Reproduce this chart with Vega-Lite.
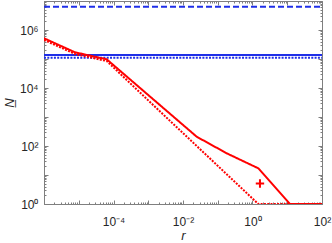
{
  "$schema": "https://vega.github.io/schema/vega-lite/v6.json",
  "width": 278,
  "height": 203,
  "autosize": "none",
  "padding": {"left": 44, "top": 1, "right": 10, "bottom": 39},
  "config": {
    "view": {"stroke": "#7f7f7f", "strokeWidth": 1},
    "font": "Liberation Sans",
    "axis": {
      "domainColor": "#7f7f7f",
      "tickColor": "#7f7f7f",
      "labelColor": "#262626",
      "titleColor": "#262626",
      "labelFont": "Liberation Sans",
      "titleFont": "Liberation Sans",
      "labelFontSize": 12,
      "titleFontSize": 13,
      "titleFontWeight": "normal",
      "titleFontStyle": "italic",
      "grid": false,
      "labelOverlap": false,
      "labelFlush": false
    }
  },
  "data": {
    "values": [
      {"s": "bdash", "r": 1e-6, "N": 6300000},
      {"s": "bdash", "r": 100, "N": 6300000},
      {"s": "bsolid", "r": 1e-6, "N": 138000},
      {"s": "bsolid", "r": 100, "N": 138000},
      {"s": "bdot", "r": 1e-6, "N": 110000},
      {"s": "bdot", "r": 100, "N": 110000},
      {"s": "rdot", "r": 1e-6, "N": 452000},
      {"s": "rdot", "r": 7.8e-6, "N": 149000},
      {"s": "rdot", "r": 6.37e-5, "N": 85300},
      {"s": "rdot", "r": 0.00112, "N": 3290},
      {"s": "rdot", "r": 1.47, "N": 1},
      {"s": "rdot", "r": 100, "N": 1},
      {"s": "rsolid", "r": 1e-6, "N": 518000},
      {"s": "rsolid", "r": 7.8e-6, "N": 170000},
      {"s": "rsolid", "r": 6.37e-5, "N": 97700},
      {"s": "rsolid", "r": 0.0248, "N": 209},
      {"s": "rsolid", "r": 0.181, "N": 56},
      {"s": "rsolid", "r": 1.47, "N": 17},
      {"s": "rsolid", "r": 12, "N": 1},
      {"s": "rsolid", "r": 100, "N": 1},
      {"s": "plus", "r": 1.64, "N": 5.1}
    ]
  },
  "resolve": {"axis": {"x": "independent", "y": "independent"}},
  "layer": [
    {
      "transform": [{"filter": "datum.s != 'plus'"}],
      "mark": {"type": "line", "strokeWidth": 2, "clip": true},
      "encoding": {
        "x": {
          "field": "r", "type": "quantitative",
          "scale": {"type": "log", "domain": [1e-6, 100], "nice": false},
          "axis": {
            "title": "r",
            "titlePadding": 0,
            "labelPadding": 16,
            "tickSize": {"condition": {"test": "abs(log(datum.value)/LN10 - round(log(datum.value)/LN10)) < 0.001", "value": -4}, "value": -2},
            "values": [1e-6,2e-6,3e-6,4e-6,5e-6,6e-6,7e-6,8e-6,9e-6,1e-5,2e-5,3e-5,4e-5,5e-5,6e-5,7e-5,8e-5,9e-5,1e-4,2e-4,3e-4,4e-4,5e-4,6e-4,7e-4,8e-4,9e-4,1e-3,2e-3,3e-3,4e-3,5e-3,6e-3,7e-3,8e-3,9e-3,0.01,0.02,0.03,0.04,0.05,0.06,0.07,0.08,0.09,0.1,0.2,0.3,0.4,0.5,0.6,0.7,0.8,0.9,1,2,3,4,5,6,7,8,9,10,20,30,40,50,60,70,80,90,100],
            "labelExpr": "abs(log(datum.value)/LN10 - round(log(datum.value)/LN10)) > 0.001 ? '' : round(log(datum.value)/LN10) == -4 ? '10⁻⁴' : round(log(datum.value)/LN10) == -2 ? '10⁻²' : round(log(datum.value)/LN10) == 0 ? '10⁰' : round(log(datum.value)/LN10) == 2 ? '10²' : ''"
          }
        },
        "y": {
          "field": "N", "type": "quantitative",
          "scale": {"type": "log", "domain": [1, 10000000], "nice": false},
          "axis": {
            "title": "N̲",
            "titlePadding": 3,
            "labelPadding": 10,
            "tickSize": {"condition": {"test": "abs(log(datum.value)/LN10 - round(log(datum.value)/LN10)) < 0.001", "value": -4}, "value": -2},
            "values": [1,2,3,4,5,6,7,8,9,10,20,30,40,50,60,70,80,90,100,200,300,400,500,600,700,800,900,1000,2000,3000,4000,5000,6000,7000,8000,9000,10000,20000,30000,40000,50000,60000,70000,80000,90000,100000,200000,300000,400000,500000,600000,700000,800000,900000,1000000,2000000,3000000,4000000,5000000,6000000,7000000,8000000,9000000,10000000],
            "labelExpr": "abs(log(datum.value)/LN10 - round(log(datum.value)/LN10)) > 0.001 ? '' : round(log(datum.value)/LN10) == 0 ? '10⁰' : round(log(datum.value)/LN10) == 2 ? '10²' : round(log(datum.value)/LN10) == 4 ? '10⁴' : round(log(datum.value)/LN10) == 6 ? '10⁶' : ''"
          }
        },
        "color": {
          "field": "s", "type": "nominal", "legend": null,
          "scale": {"domain": ["bdash", "bsolid", "bdot", "rdot", "rsolid"], "range": ["#1f2fe8", "#1f2fe8", "#1f2fe8", "#ff0000", "#ff0000"]}
        },
        "strokeDash": {
          "field": "s", "type": "nominal", "legend": null,
          "scale": {"domain": ["bdash", "bsolid", "bdot", "rdot", "rsolid"], "range": [[6, 3], [1, 0], [2, 1.3], [2, 1.3], [1, 0]]}
        }
      }
    },
    {
      "transform": [{"filter": "datum.s == 'plus'"}],
      "mark": {"type": "point", "shape": "M-1,0L1,0M0,-1L0,1", "size": 70, "stroke": "#ff0000", "strokeWidth": 2, "filled": false, "opacity": 1},
      "encoding": {
        "x": {"field": "r", "type": "quantitative", "scale": {"type": "log", "domain": [1e-6, 100], "nice": false},
          "axis": {"orient": "top", "labels": false, "title": null, "domain": false,
            "tickSize": {"condition": {"test": "abs(log(datum.value)/LN10 - round(log(datum.value)/LN10)) < 0.001", "value": -4}, "value": -2},
            "values": [1e-6,2e-6,3e-6,4e-6,5e-6,6e-6,7e-6,8e-6,9e-6,1e-5,2e-5,3e-5,4e-5,5e-5,6e-5,7e-5,8e-5,9e-5,1e-4,2e-4,3e-4,4e-4,5e-4,6e-4,7e-4,8e-4,9e-4,1e-3,2e-3,3e-3,4e-3,5e-3,6e-3,7e-3,8e-3,9e-3,0.01,0.02,0.03,0.04,0.05,0.06,0.07,0.08,0.09,0.1,0.2,0.3,0.4,0.5,0.6,0.7,0.8,0.9,1,2,3,4,5,6,7,8,9,10,20,30,40,50,60,70,80,90,100]}},
        "y": {"field": "N", "type": "quantitative", "scale": {"type": "log", "domain": [1, 10000000], "nice": false},
          "axis": {"orient": "right", "labels": false, "title": null, "domain": false,
            "tickSize": {"condition": {"test": "abs(log(datum.value)/LN10 - round(log(datum.value)/LN10)) < 0.001", "value": -4}, "value": -2},
            "values": [1,2,3,4,5,6,7,8,9,10,20,30,40,50,60,70,80,90,100,200,300,400,500,600,700,800,900,1000,2000,3000,4000,5000,6000,7000,8000,9000,10000,20000,30000,40000,50000,60000,70000,80000,90000,100000,200000,300000,400000,500000,600000,700000,800000,900000,1000000,2000000,3000000,4000000,5000000,6000000,7000000,8000000,9000000,10000000]}}
      }
    }
  ]
}
